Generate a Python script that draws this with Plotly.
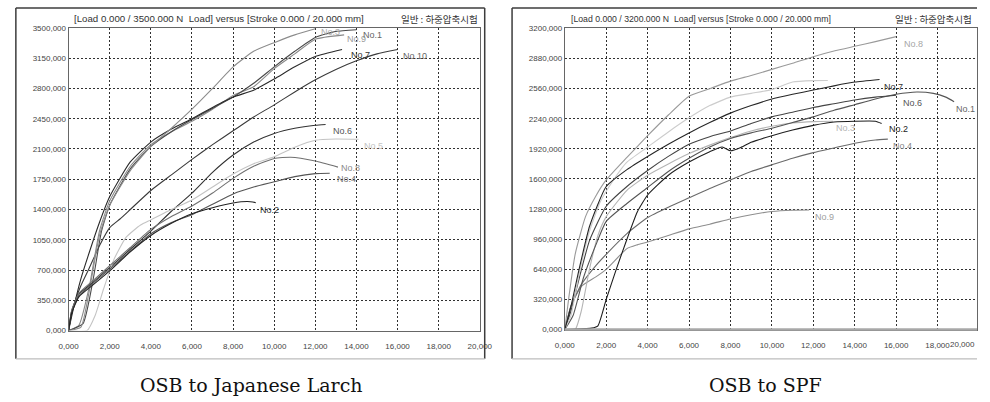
import plotly.graph_objects as go

# ---------------- DATA: OSB to Japanese Larch (left) ----------------
L_title = "[Load 0.000 / 3500.000 N  Load] versus [Stroke 0.000 / 20.000 mm]"
R_title = "[Load 0.000 / 3200.000 N  Load] versus [Stroke 0.000 / 20.000 mm]"
kor_title = "일반 : 하중압축시험"
L_caption = "OSB to Japanese Larch"
R_caption = "OSB to SPF"

x_ticks = [0, 2, 4, 6, 8, 10, 12, 14, 16, 18, 20]
L_y_ticks = [0, 350, 700, 1050, 1400, 1750, 2100, 2450, 2800, 3150, 3500]
R_y_ticks = [0, 320, 640, 960, 1280, 1600, 1920, 2240, 2560, 2880, 3200]

L1_x = [0, 0.7, 1.2, 1.6, 2.0, 3.0, 4.0, 5.0, 6.0, 7.0, 8.0, 9.0, 10.0, 11.0, 12.0, 13.0, 14.0]
L1_y = [0, 80, 600, 1150, 1450, 1870, 2130, 2300, 2440, 2570, 2700, 2860, 3050, 3230, 3390, 3460, 3480]
L2_x = [0, 0.15, 0.5, 1.2, 2, 3, 4, 5, 6, 7, 8, 8.7, 9.1]
L2_y = [0, 200, 390, 530, 690, 910, 1100, 1240, 1350, 1420, 1475, 1492, 1480]
L3_x = [0, 0.6, 1.0, 1.5, 2, 3, 4, 5, 6, 7, 8, 9, 10, 11, 12]
L3_y = [0, 40, 450, 1100, 1450, 1850, 2130, 2340, 2560, 2800, 3050, 3230, 3330, 3420, 3490]
L4_x = [0, 0.15, 0.5, 1.2, 2, 3, 4, 5, 6, 7, 8, 9, 10, 11, 12, 12.7]
L4_y = [0, 210, 400, 550, 710, 920, 1120, 1250, 1340, 1460, 1580, 1660, 1720, 1780, 1815, 1820]
L5_x = [0, 0.9, 1.3, 1.7, 2.2, 2.8, 3.5, 4, 5, 6, 7, 8, 9, 10, 11, 12, 13, 14.1]
L5_y = [0, 0, 180, 480, 820, 1080, 1220, 1280, 1400, 1510, 1660, 1810, 1930, 2010, 2120, 2200, 2215, 2212]
L6_x = [0, 0.15, 0.5, 1.2, 2, 3, 4, 5, 6, 7, 8, 9, 10, 11, 12, 12.5]
L6_y = [0, 230, 420, 560, 730, 940, 1150, 1380, 1590, 1830, 2030, 2180, 2280, 2340, 2375, 2384]
L7_x = [0, 0.2, 0.6, 1.0, 1.5, 2, 3, 4, 5, 6, 7, 8, 9, 10, 11, 12, 13.3]
L7_y = [0, 220, 600, 900, 1250, 1550, 1950, 2180, 2330, 2450, 2580, 2700, 2780, 2910, 3050, 3170, 3250]
L8_x = [0, 0.15, 0.5, 1.2, 2, 3, 4, 5, 6, 7, 8, 9, 10, 10.8, 12, 13.1]
L8_y = [0, 230, 430, 580, 750, 960, 1170, 1320, 1440, 1590, 1760, 1900, 1990, 2005, 1960, 1890]
L9_x = [0, 0.5, 1.0, 1.5, 2.0, 3, 4, 5, 6, 7, 8, 9, 10, 11, 12, 13.4]
L9_y = [0, 60, 500, 1150, 1500, 1900, 2150, 2300, 2420, 2560, 2720, 2820, 3030, 3200, 3370, 3420]
L10_x = [0, 0.2, 0.6, 1.0, 1.5, 2.0, 2.5, 3, 4, 5, 6, 7, 8, 9, 10, 11, 12, 13, 14, 15, 16]
L10_y = [0, 250, 520, 720, 980, 1190, 1290, 1400, 1620, 1800, 1980, 2150, 2310, 2470, 2610, 2760, 2900, 3020, 3120, 3200, 3250]

# ---------------- DATA: OSB to SPF (right) ----------------
R1_x = [0, 0.4, 0.9, 1.5, 2, 3, 4, 5, 6, 7, 8, 9, 10, 11, 12, 13, 14, 15, 16, 17, 17.8, 18.4, 18.8]
R1_y = [0, 150, 550, 900, 1150, 1340, 1510, 1680, 1820, 1940, 2030, 2090, 2140, 2200, 2260, 2330, 2390, 2450, 2500, 2525, 2510, 2470, 2421]
R2_x = [0, 1.0, 1.3, 1.6, 2, 2.5, 3, 3.5, 4, 5, 6, 7, 7.6, 8, 8.5, 9, 10, 11, 12, 13, 14, 15, 15.3]
R2_y = [0, 10, 15, 40, 320, 650, 960, 1250, 1430, 1640, 1780, 1890, 1940, 1900, 1935, 1990, 2060, 2120, 2170, 2205, 2214, 2214, 2190]
R3_x = [0, 0.5, 0.8, 1.2, 1.6, 2, 3, 4, 5, 6, 7, 8, 9, 10, 11, 12, 12.95]
R3_y = [0, 0, 200, 650, 1000, 1200, 1480, 1640, 1760, 1870, 1960, 2040, 2110, 2160, 2195, 2210, 2214]
R4_x = [0, 0.3, 0.8, 1.5, 2, 3, 4, 5, 6, 7, 8, 9, 10, 11, 12, 13, 14, 15, 15.6]
R4_y = [0, 250, 480, 680, 800, 1020, 1190, 1300, 1400, 1500, 1590, 1680, 1750, 1820, 1880, 1930, 1980, 2015, 2024]
R5_x = [0, 0.3, 0.7, 1.2, 1.7, 2, 2.7, 3, 4, 5, 6, 7, 8, 9, 10, 11, 12, 12.7]
R5_y = [0, 150, 600, 1050, 1350, 1470, 1700, 1780, 1940, 2100, 2250, 2380, 2470, 2510, 2550, 2630, 2645, 2646]
R6_x = [0, 0.3, 0.7, 1.2, 2, 3, 4, 5, 6, 7, 8, 9, 10, 11, 12, 13, 14, 15, 16]
R6_y = [0, 200, 550, 950, 1310, 1520, 1690, 1840, 1970, 2050, 2110, 2190, 2260, 2310, 2360, 2400, 2440, 2470, 2490]
R7_x = [0, 0.3, 0.7, 1.2, 2, 3, 4, 5, 6, 7, 8, 9, 10, 11, 12, 13, 14, 15.2]
R7_y = [0, 250, 650, 1100, 1520, 1700, 1840, 1970, 2090, 2200, 2300, 2380, 2450, 2500, 2545, 2590, 2630, 2657]
R8_x = [0, 0.2, 0.5, 1.0, 1.5, 2, 3, 4, 5, 6, 7, 8, 9, 10, 11, 12, 13, 14, 15, 16]
R8_y = [0, 350, 800, 1200, 1420, 1590, 1830, 2060, 2280, 2480, 2560, 2640, 2700, 2765, 2830, 2900, 2960, 3010, 3060, 3113]
R9_x = [0, 0.3, 0.8, 1.5, 2, 3, 3.5, 4, 5, 6, 7, 8, 9, 10, 11, 11.8]
R9_y = [0, 250, 460, 560, 640, 860, 900, 930, 1000, 1070, 1120, 1175, 1220, 1255, 1268, 1270]

# ---------------- STYLE ----------------
W, H = 990, 402
def px(x): return x / W
def py(y): return 1 - y / H

# name, x, y, line colour, label text (None = no label), label colour, xshift, yshift
left_series = [
    ("No.10", L10_x, L10_y, "#3a3a3a", "No.10", "#666666", 3, -6),
    ("No.9", L9_x, L9_y, "#8a8a8a", "No.9", "#9a9a9a", 1, -4),
    ("No.1", L1_x, L1_y, "#4a4a4a", "No.1", "#666666", 5, -5),
    ("No.7", L7_x, L7_y, "#2a2a2a", "No.7", "#333333", 7, -5),
    ("No.3", L3_x, L3_y, "#8c8c8c", "No.3", "#aaaaaa", 4, -3),
    ("No.6", L6_x, L6_y, "#333333", "No.6", "#555555", 5, -7),
    ("No.5", L5_x, L5_y, "#c4c4c4", "No.5", "#c4c4c4", 3, -7),
    ("No.8", L8_x, L8_y, "#707070", "No.8", "#8a8a8a", 1, -1),
    ("No.4", L4_x, L4_y, "#555555", "No.4", "#777777", 5, -6),
    ("No.2", L2_x, L2_y, "#222222", "No.2", "#333333", 2, -7),
]
right_series = [
    ("No.9", R9_x, R9_y, "#8e8e8e", "No.9", "#a0a0a0", 4, -7),
    ("No.4", R4_x, R4_y, "#6a6a6a", "No.4", "#888888", 3, -7),
    ("No.3", R3_x, R3_y, "#b4b4b4", "No.3", "#b4b4b4", 1, -7),
    ("No.1", R1_x, R1_y, "#555555", "No.1", "#666666", 0, -7),
    ("No.6", R6_x, R6_y, "#444444", "No.6", "#555555", 5, -8),
    ("No.5", R5_x, R5_y, "#cccccc", None, None, 0, 0),
    ("No.8", R8_x, R8_y, "#9a9a9a", "No.8", "#a6a6a6", 6, -7),
    ("No.7", R7_x, R7_y, "#262626", "No.7", "#333333", 2, -7),
    ("No.2", R2_x, R2_y, "#1e1e1e", "No.2", "#222222", 5, -6),
]

fig = go.Figure()
annotations = []

def add_series(series, xa, ya):
    for name, xs, ys, col, lab, lcol, dx, dy in series:
        fig.add_trace(go.Scatter(x=xs, y=ys, mode="lines", name=name,
                                 xaxis=xa, yaxis=ya, showlegend=False,
                                 line=dict(color=col, width=1.1, shape="spline", smoothing=0.5),
                                 hoverinfo="skip"))
        if lab:
            annotations.append(dict(x=xs[-1], y=ys[-1], xref=xa, yref=ya, text=lab,
                                    showarrow=False, xanchor="left", yanchor="middle",
                                    xshift=dx, yshift=dy,
                                    font=dict(family="Liberation Sans", size=9, color=lcol)))

add_series(left_series, "x", "y")
add_series(right_series, "x2", "y2")

def fmt(v):
    return f"{v:.3f}".replace(".", ",")

tick_font = dict(family="Liberation Sans", size=8, color="#444444")
grid = dict(showgrid=True, gridcolor="#303030", gridwidth=1, griddash="2px,2px",
            zeroline=False, ticks="", tickfont=tick_font, showline=True, mirror=True,
            linecolor="#666666", linewidth=1)

R_x_max = 20 * (990 - 568) / (992 - 568)

fig.update_layout(
    width=W, height=H, autosize=False,
    margin=dict(l=0, r=0, t=0, b=0),
    paper_bgcolor="white", plot_bgcolor="white",
    xaxis=dict(domain=[px(60), px(481)], range=[0, 20], tickvals=x_ticks,
               ticktext=[fmt(v) for v in x_ticks], anchor="y", ticklabelstandoff=8, **grid),
    yaxis=dict(domain=[py(334), py(24.5)], range=[0, 3500], tickvals=L_y_ticks,
               ticktext=[fmt(v) for v in L_y_ticks], anchor="x", **grid),
    xaxis2=dict(domain=[px(568), 1.0], range=[0, R_x_max], tickvals=x_ticks[:-1],
                ticktext=[fmt(v) for v in x_ticks[:-1]], anchor="y2", ticklabelstandoff=8, **grid),
    yaxis2=dict(domain=[py(333), py(25)], range=[0, 3200], tickvals=R_y_ticks,
                ticktext=[fmt(v) for v in R_y_ticks], anchor="x2", **grid),
)

# last x tick of right panel (sits at the image edge)
annotations.append(dict(x=px(990), y=py(333), xref="paper", yref="paper", text=fmt(x_ticks[-1]),
                        showarrow=False, xanchor="right", yanchor="top", yshift=-8,
                        font=tick_font))

hdr_font_L = dict(family="Liberation Sans", size=9.7, color="#333333")
hdr_font_R = dict(family="Liberation Sans", size=8.7, color="#333333")
kor_font = dict(family="Noto Sans CJK KR", size=9.5, color="#333333")
annotations += [
    dict(x=px(63), y=py(15), xref="paper", yref="paper", text=L_title, showarrow=False,
         xanchor="left", yanchor="middle", font=hdr_font_L),
    dict(x=px(481), y=py(15), xref="paper", yref="paper", text=kor_title, showarrow=False,
         xanchor="right", yanchor="middle", font=kor_font),
    dict(x=px(572), y=py(15), xref="paper", yref="paper", text=R_title, showarrow=False,
         xanchor="left", yanchor="middle", font=hdr_font_R),
    dict(x=px(987), y=py(15), xref="paper", yref="paper", text=kor_title, showarrow=False,
         xanchor="right", yanchor="middle", font=kor_font),
    dict(x=px(247), y=py(390), xref="paper", yref="paper", text=L_caption, showarrow=False,
         xanchor="center", yanchor="middle",
         font=dict(family="DejaVu Serif", size=19, color="#111111")),
    dict(x=px(773), y=py(390), xref="paper", yref="paper", text=R_caption, showarrow=False,
         xanchor="center", yanchor="middle",
         font=dict(family="DejaVu Serif", size=19, color="#111111")),
]

shapes = []
def frame(x0, x1, y0, y1, right=True):
    dark = dict(color="#3c3c3c", width=1.5)
    shapes.append(dict(type="line", xref="paper", yref="paper", x0=px(x0), x1=px(x1), y0=py(y0), y1=py(y0), line=dark))
    shapes.append(dict(type="line", xref="paper", yref="paper", x0=px(x0), x1=px(x0), y0=py(y0), y1=py(y1), line=dark))
    if right:
        shapes.append(dict(type="line", xref="paper", yref="paper", x0=px(x1), x1=px(x1), y0=py(y0), y1=py(y1), line=dark))
    shapes.append(dict(type="line", xref="paper", yref="paper", x0=px(x0), x1=px(x1), y0=py(y1), y1=py(y1),
                       line=dict(color="#bdbdbd", width=1.2)))

frame(6, 486, 4, 363)
frame(514, 990, 4, 363, right=False)
# thick grey baseline of right plot
shapes.append(dict(type="line", xref="x2 domain", yref="y2 domain", x0=0, x1=1, y0=0, y1=0,
                   line=dict(color="#a8a8a8", width=2.5)))

fig.update_layout(annotations=annotations, shapes=shapes)
fig.write_html("out.html", config={"displayModeBar": False},
               post_script="document.body.style.margin='0';document.body.style.overflow='hidden';"
                           "document.documentElement.style.overflow='hidden';")
